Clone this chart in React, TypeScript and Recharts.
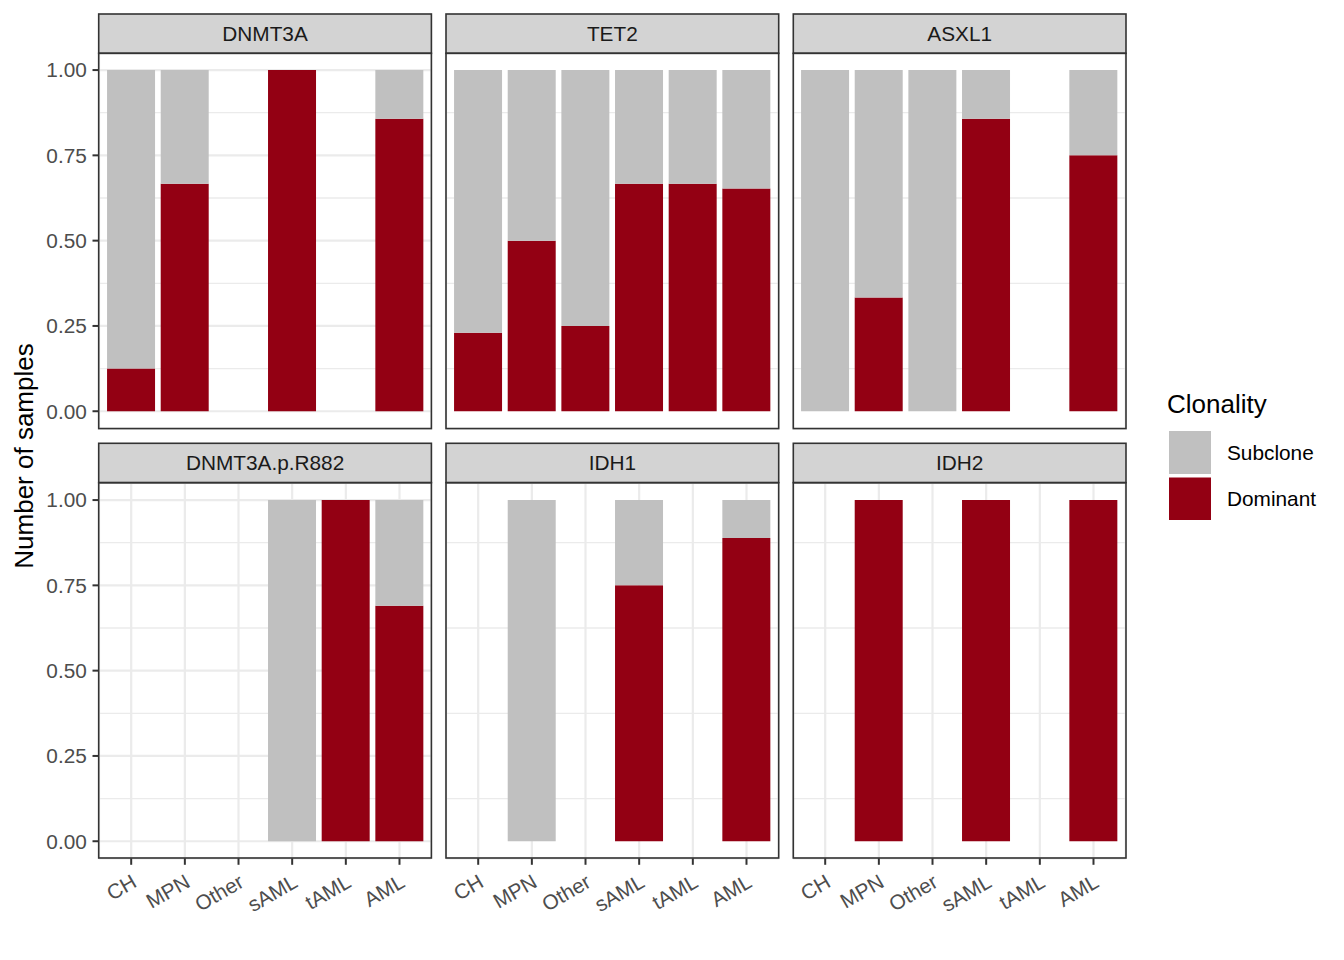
import React from 'react';
import { BarChart, Bar, XAxis, YAxis, CartesianGrid } from 'recharts';

// ---------- data ----------
const categories = ['CH', 'MPN', 'Other', 'sAML', 'tAML', 'AML'];
const genes = ['DNMT3A', 'TET2', 'ASXL1', 'DNMT3A.p.R882', 'IDH1', 'IDH2'];

const dominantDNMT3A = [0.125, 0.667, null, 1.0, null, 0.857];
const subcloneDNMT3A = [0.875, 0.333, null, 0.0, null, 0.143];

const dominantTET2 = [0.23, 0.5, 0.25, 0.667, 0.667, 0.653];
const subcloneTET2 = [0.77, 0.5, 0.75, 0.333, 0.333, 0.347];

const dominantASXL1 = [0.0, 0.333, 0.0, 0.857, null, 0.75];
const subcloneASXL1 = [1.0, 0.667, 1.0, 0.143, null, 0.25];

const dominantR882 = [null, null, null, 0.0, 1.0, 0.69];
const subcloneR882 = [null, null, null, 1.0, 0.0, 0.31];

const dominantIDH1 = [null, 0.0, null, 0.75, null, 0.889];
const subcloneIDH1 = [null, 1.0, null, 0.25, null, 0.111];

const dominantIDH2 = [null, 1.0, null, 1.0, null, 1.0];
const subcloneIDH2 = [null, 0.0, null, 0.0, null, 0.0];

const dominantByGene = [dominantDNMT3A, dominantTET2, dominantASXL1, dominantR882, dominantIDH1, dominantIDH2];
const subcloneByGene = [subcloneDNMT3A, subcloneTET2, subcloneASXL1, subcloneR882, subcloneIDH1, subcloneIDH2];

const yTicks = [0, 0.25, 0.5, 0.75, 1];
const yMinorTicks = [0.125, 0.375, 0.625, 0.875];
const legendLabels = ['Subclone', 'Dominant'];
const legendTitle = 'Clonality';
const yTitle = 'Number of samples';

// ---------- style / layout ----------
const FONT = '"Liberation Sans", Arial, Helvetica, sans-serif';
const DOM_COLOR = '#930013';
const SUB_COLOR = '#C0C0C0';
const GRID = '#EBEBEB';
const DARK = '#333333';
const Y_DOMAIN: [number, number] = [-0.05, 1.05];

const colX = [98.7, 446, 793.3];
const panelW = 332.7;
const stripTop = [14, 443.3];
const stripH = 39.3;
const panelTop = [53.3, 482.7];
const panelH = 375.3;
const yAxisW = 60;
const xAxisH = 90;
const xPad = 5.37;

const minorGen = (props: any) => {
  const scale = props?.yAxis?.scale;
  if (typeof scale === 'function') {
    return yMinorTicks.map((v) => Number(scale(v)));
  }
  if (scale && typeof scale.map === 'function') {
    return yMinorTicks.map((v) => Number(scale.map(v)));
  }
  const off = props.offset;
  return yMinorTicks.map(
    (v) => off.top + ((Y_DOMAIN[1] - v) / (Y_DOMAIN[1] - Y_DOMAIN[0])) * off.height
  );
};

const XTick = (props: any) => {
  const { x, y, payload } = props;
  const ax = x - 2.5;
  const ay = y;
  return (
    <text
      x={ax}
      y={ay}
      dy={18.5}
      textAnchor="end"
      transform={`rotate(-30, ${ax}, ${ay})`}
      fill="#4D4D4D"
      fontSize={20.8}
      fontFamily={FONT}
    >
      {payload.value}
    </text>
  );
};

const Panel = ({ idx }: { idx: number }) => {
  const col = idx % 3;
  const row = Math.floor(idx / 3);
  const isBottom = row === 1;
  const isLeft = col === 0;
  const dom = dominantByGene[idx];
  const sub = subcloneByGene[idx];
  const data = categories.map((c, i) => ({ cat: c, dominant: dom[i], subclone: sub[i] }));
  const h = panelH + (isBottom ? xAxisH : 0);
  return (
    <div style={{ position: 'absolute', left: colX[col] - yAxisW, top: panelTop[row], width: panelW + yAxisW, height: h }}>
      <BarChart
        width={panelW + yAxisW}
        height={h}
        data={data}
        margin={{ top: 0, right: 0, bottom: 0, left: 0 }}
        barCategoryGap="5%"
      >
        <CartesianGrid vertical={false} stroke={GRID} strokeWidth={1.3} horizontalCoordinatesGenerator={minorGen} />
        <CartesianGrid stroke={GRID} strokeWidth={2.2} />
        <XAxis
          dataKey="cat"
          type="category"
          padding={{ left: xPad, right: xPad }}
          height={isBottom ? xAxisH : 0}
          interval={0}
          axisLine={false}
          tick={isBottom ? <XTick /> : false}
          tickLine={isBottom ? { stroke: DARK, strokeWidth: 2 } : false}
          tickSize={6.5}
          tickMargin={5.2}
        />
        <YAxis
          type="number"
          domain={Y_DOMAIN}
          allowDataOverflow
          ticks={yTicks}
          interval={0}
          width={yAxisW}
          axisLine={false}
          tickFormatter={(v: number) => v.toFixed(2)}
          tick={isLeft ? { fill: '#4D4D4D', fontSize: 20.8, fontFamily: FONT } : false}
          tickLine={isLeft ? { stroke: DARK, strokeWidth: 2 } : false}
          tickSize={6.5}
          tickMargin={5.7}
        />
        <Bar dataKey="dominant" stackId="s" fill={DOM_COLOR} isAnimationActive={false} />
        <Bar dataKey="subclone" stackId="s" fill={SUB_COLOR} isAnimationActive={false} />
      </BarChart>
    </div>
  );
};

export default function App() {
  return (
    <div style={{ position: 'absolute', left: 0, top: 0, width: 1344, height: 960, background: '#FFFFFF', overflow: 'hidden' }}>
      {genes.map((g, i) => (
        <Panel key={g} idx={i} />
      ))}
      <svg
        width={1344}
        height={960}
        style={{ position: 'absolute', left: 0, top: 0, pointerEvents: 'none' }}
      >
        {genes.map((g, i) => {
          const col = i % 3;
          const row = Math.floor(i / 3);
          return (
            <g key={g}>
              <rect x={colX[col]} y={stripTop[row]} width={panelW} height={stripH} fill="#D3D3D3" stroke={DARK} strokeWidth={1.6} />
              <text
                x={colX[col] + panelW / 2}
                y={stripTop[row] + stripH / 2}
                dy="0.36em"
                textAnchor="middle"
                fontSize={20.8}
                fontFamily={FONT}
                fill="#1A1A1A"
              >
                {g}
              </text>
              <rect x={colX[col]} y={panelTop[row]} width={panelW} height={panelH} fill="none" stroke={DARK} strokeWidth={1.6} />
            </g>
          );
        })}
        <text
          x={33}
          y={456}
          transform="rotate(-90, 33, 456)"
          textAnchor="middle"
          fontSize={26}
          fontFamily={FONT}
          fill="#000000"
        >
          {yTitle}
        </text>
        <text x={1167} y={413} fontSize={26} fontFamily={FONT} fill="#000000">
          {legendTitle}
        </text>
        <rect x={1169} y={431} width={42} height={43} fill={SUB_COLOR} />
        <rect x={1169} y={477.5} width={42} height={42.5} fill={DOM_COLOR} />
        <text x={1227} y={452.5} dy="0.36em" fontSize={20.8} fontFamily={FONT} fill="#000000">
          {legendLabels[0]}
        </text>
        <text x={1227} y={499} dy="0.36em" fontSize={20.8} fontFamily={FONT} fill="#000000">
          {legendLabels[1]}
        </text>
      </svg>
    </div>
  );
}
